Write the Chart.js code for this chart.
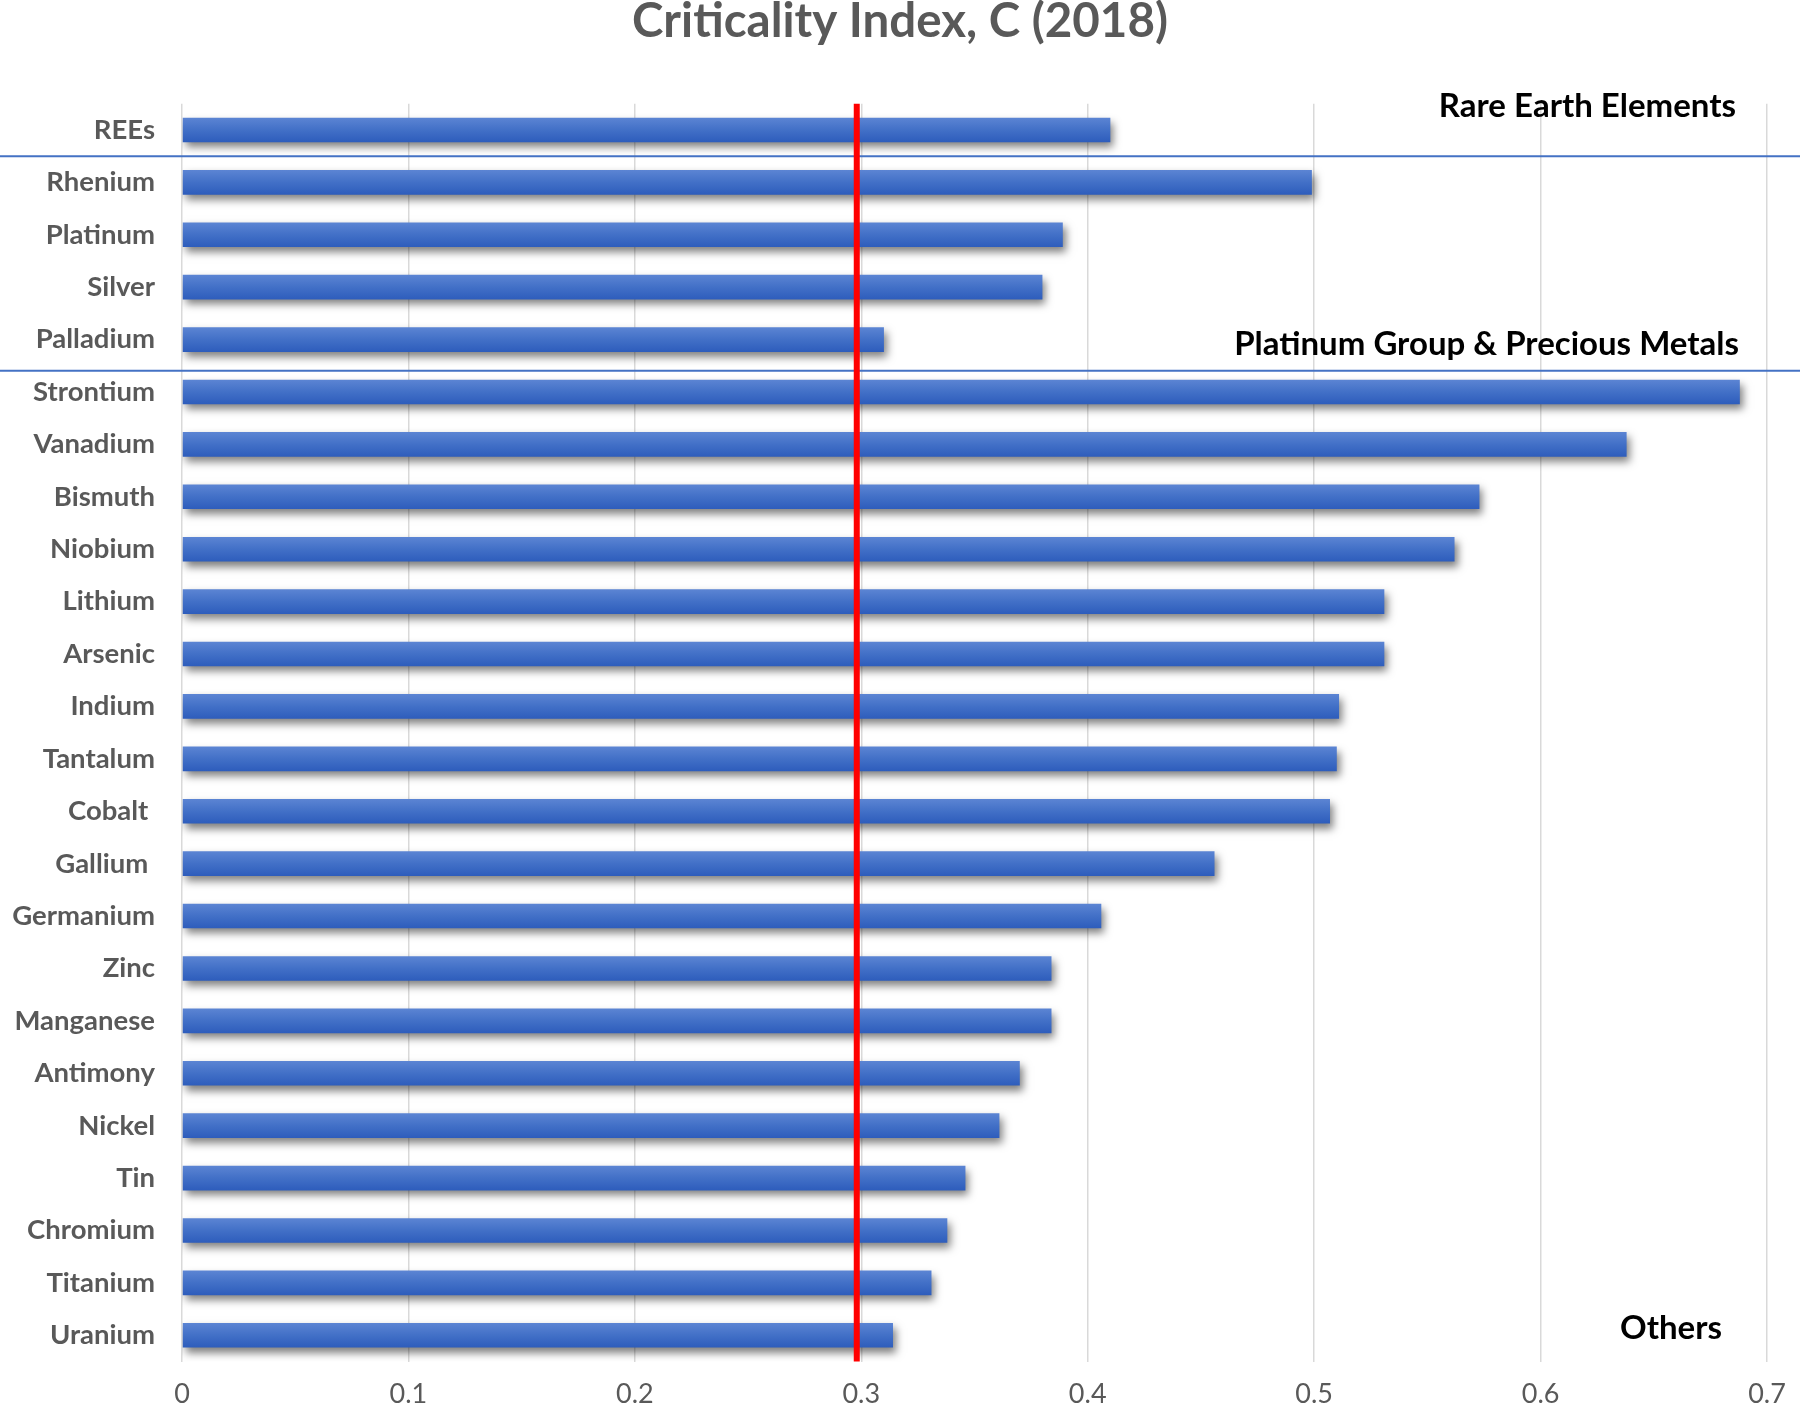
<!DOCTYPE html>
<html lang="en">
<head>
    <meta charset="UTF-8">
    <title>Criticality Index, C (2018)</title>
    <script src="https://cdn.jsdelivr.net/npm/chart.js@4.4.1/dist/chart.umd.min.js"></script>
    <style>
        * { margin: 0; padding: 0; box-sizing: border-box; }
        body { background: #ffffff; }
        .chart-wrapper { position: relative; width: 1800px; height: 1405px; }
    </style>
</head>
<body>
    <div class="chart-wrapper">
        <canvas id="critChart"></canvas>
    </div>

    <script>
        // data
        const categories = ['REEs', 'Rhenium', 'Platinum', 'Silver', 'Palladium',
            'Strontium', 'Vanadium', 'Bismuth', 'Niobium', 'Lithium', 'Arsenic', 'Indium',
            'Tantalum', 'Cobalt ', 'Gallium ', 'Germanium', 'Zinc', 'Manganese', 'Antimony',
            'Nickel', 'Tin', 'Chromium', 'Titanium', 'Uranium'];
        const criticality = [0.410, 0.499, 0.389, 0.380, 0.310,
            0.688, 0.638, 0.573, 0.562, 0.531, 0.531, 0.511,
            0.510, 0.507, 0.456, 0.406, 0.384, 0.384, 0.370,
            0.361, 0.346, 0.338, 0.331, 0.314];
        const xTickLabels = ['0', '0.1', '0.2', '0.3', '0.4', '0.5', '0.6', '0.7'];
        const threshold = 0.298;
        const groupNames = ['Rare Earth Elements', 'Platinum Group & Precious Metals', 'Others'];
        const groupLastIndex = [0, 4, 23];

        const gray = '#595959';

        function barGradient(context) {
            const chart = context.chart;
            const y = chart.scales.y;
            if (!y || context.dataIndex === undefined) return '#4472c4';
            const c = y.getPixelForValue(context.dataIndex);
            if (!isFinite(c)) return '#4472c4';
            const g = chart.ctx.createLinearGradient(0, c - 12, 0, c + 12);
            g.addColorStop(0, '#5b84d3');
            g.addColorStop(0.5, '#4270c7');
            g.addColorStop(1, '#2e5dbc');
            return g;
        }

        // shadow under the bars
        const shadowPlugin = {
            id: 'barShadow',
            beforeDatasetsDraw(chart) {
                const ctx = chart.ctx;
                ctx.save();
                ctx.shadowColor = 'rgba(0, 0, 0, 0.5)';
                ctx.shadowBlur = 8;
                ctx.shadowOffsetX = 3;
                ctx.shadowOffsetY = 5;
            },
            afterDatasetsDraw(chart) {
                chart.ctx.restore();
            }
        };

        // threshold line, group separators and group names
        const overlayPlugin = {
            id: 'overlay',
            afterDatasetsDraw(chart) {
                const ctx = chart.ctx;
                const x = chart.scales.x;
                const y = chart.scales.y;
                const area = chart.chartArea;
                ctx.save();

                // group separators
                ctx.strokeStyle = '#4472c4';
                ctx.lineWidth = 2;
                const sepOffsets = [0, 5];
                for (let g = 0; g < groupLastIndex.length - 1; g++) {
                    const i = groupLastIndex[g];
                    const sy = (y.getPixelForValue(i) + y.getPixelForValue(i + 1)) / 2 + sepOffsets[g];
                    ctx.beginPath();
                    ctx.moveTo(0, sy);
                    ctx.lineTo(chart.width, sy);
                    ctx.stroke();
                }

                // red threshold line
                const tx = x.getPixelForValue(threshold);
                ctx.strokeStyle = '#ff0000';
                ctx.lineWidth = 6;
                ctx.beginPath();
                ctx.moveTo(tx, area.top);
                ctx.lineTo(tx, area.bottom);
                ctx.stroke();

                // group names
                ctx.fillStyle = '#000000';
                ctx.font = 'bold 33px Lato';
                ctx.textAlign = 'right';
                ctx.textBaseline = 'middle';
                const nameOffsets = [-24, 5, -7];
                const nameRight = [1736, 1739, 1722];
                groupNames.forEach((name, g) => {
                    const ny = y.getPixelForValue(groupLastIndex[g]) + nameOffsets[g];
                    ctx.fillText(name, nameRight[g], ny);
                });
                ctx.restore();
            }
        };

        const config = {
            type: 'bar',
            data: {
                labels: categories,
                datasets: [{
                    label: 'Criticality Index',
                    data: criticality,
                    backgroundColor: barGradient,
                    borderWidth: 0,
                    categoryPercentage: 1.0,
                    barPercentage: 0.47
                }]
            },
            options: {
                indexAxis: 'y',
                responsive: true,
                maintainAspectRatio: false,
                animation: false,
                layout: {
                    padding: 0
                },
                plugins: {
                    legend: { display: false },
                    tooltip: { enabled: false },
                    title: {
                        display: true,
                        text: 'Criticality Index, C (2018)',
                        color: gray,
                        font: { family: 'Lato', size: 47.5, weight: 'bold', lineHeight: 0.9 },
                        padding: { top: 0, bottom: 61 }
                    }
                },
                scales: {
                    x: {
                        min: 0,
                        max: 0.7,
                        ticks: {
                            stepSize: 0.1,
                            color: gray,
                            padding: 17,
                            font: { family: 'Lato', size: 27 },
                            callback: (v, i) => xTickLabels[i]
                        },
                        grid: {
                            color: '#d9d9d9',
                            lineWidth: 1.5,
                            drawTicks: false
                        },
                        border: { display: false },
                        afterFit: (s) => { s.height = 43; s.paddingRight = 33; }
                    },
                    y: {
                        ticks: {
                            color: gray,
                            padding: 27,
                            font: { family: 'Lato', size: 27.5, weight: 'bold' }
                        },
                        grid: { display: false, drawTicks: false },
                        border: { display: false },
                        afterFit: (s) => { s.width = 182; }
                    }
                }
            },
            plugins: [shadowPlugin, overlayPlugin]
        };

        const chart = new Chart(document.getElementById('critChart').getContext('2d'), config);
    </script>
</body>
</html>
